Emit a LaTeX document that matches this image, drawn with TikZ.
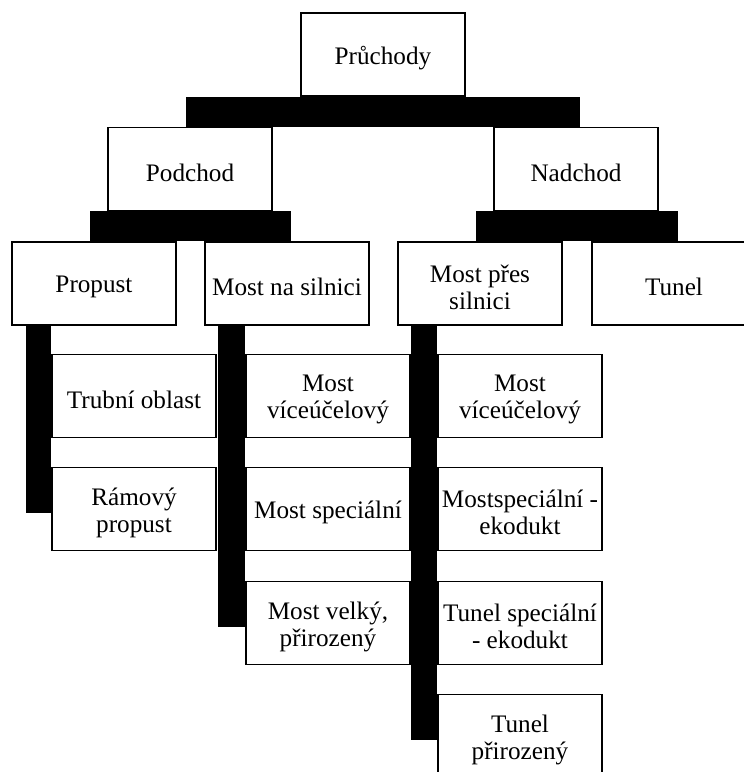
\documentclass[tikz,border=0pt]{standalone}
\usepackage{fontspec}
\setmainfont{Liberation Serif}
\usetikzlibrary{calc,positioning,backgrounds}

\begin{document}
\begin{tikzpicture}[x=1pt,y=-1pt,
  txt/.style={align=center,inner sep=0pt,font=\fontsize{25.2}{27}\selectfont},
  box/.style={draw,line width=1.2pt,fill=white,minimum width=164pt,minimum height=83pt,
    label={[txt,yshift=-3.5pt]center:#1}},
  bar/.style={fill=black}]
  \useasboundingbox (0,0) rectangle (744,772);
  % upper levels
  \node[box=Průchody] (pruchody) at (383,54.5) {};
  \node[box=Podchod] (podchod) at (190,169) {};
  \node[box=Nadchod] (nadchod) at (576,169) {};
  \node[box=Propust] (propust) at (94,283.5) {};
  \node[box=Most na silnici] (mostna) at (287,283.5) {};
  \node[box={Most přes\\silnici}] (mostpres) at (480,283.5) {};
  \node[box=Tunel] (tunel) at (674,283.5) {};
  % leaves
  \node[box=Trubní oblast] (trubni) at (134,396) {};
  \node[box={Rámový\\propust}] (ramovy) at (134,509) {};
  \node[box={Most\\víceúčelový}] (mostvice) at (328,396) {};
  \node[box=Most speciální] (mostspec) at (328,509) {};
  \node[box={Most velký,\\přirozený}] (mostvelky) at (328,623) {};
  \node[box={Most\\víceúčelový}] (mostviceb) at (520,396) {};
  \node[box={Mostspeciální -\\ekodukt}] (mostekodukt) at (520,509) {};
  \node[box={Tunel speciální\\- ekodukt}] (tunelspec) at (520,623) {};
  \node[box={Tunel\\přirozený}] (tunelpri) at (520,736) {};
  % thick connectors
  \begin{scope}[on background layer]
    \fill[bar] ($(podchod.north)+(-4,0)$) rectangle ($(nadchod.north |- pruchody.south)+(4,0)$);
    \fill[bar] ($(propust.north)+(-4,0)$) rectangle ($(mostna.north |- podchod.south)+(4,0)$);
    \fill[bar] ($(mostpres.north)+(-4,0)$) rectangle ($(tunel.north |- nadchod.south)+(4,0)$);
    \fill[bar] ($(propust.south west)+(15,0)$) rectangle ($(ramovy.west)+(0,4)$);
    \fill[bar] ($(mostna.south west)+(14,0)$) rectangle ($(mostvelky.west)+(0,4)$);
    \fill[bar] ($(mostpres.south west)+(14,0)$) rectangle ($(tunelpri.west)+(0,4)$);
  \end{scope}
\end{tikzpicture}
\end{document}
